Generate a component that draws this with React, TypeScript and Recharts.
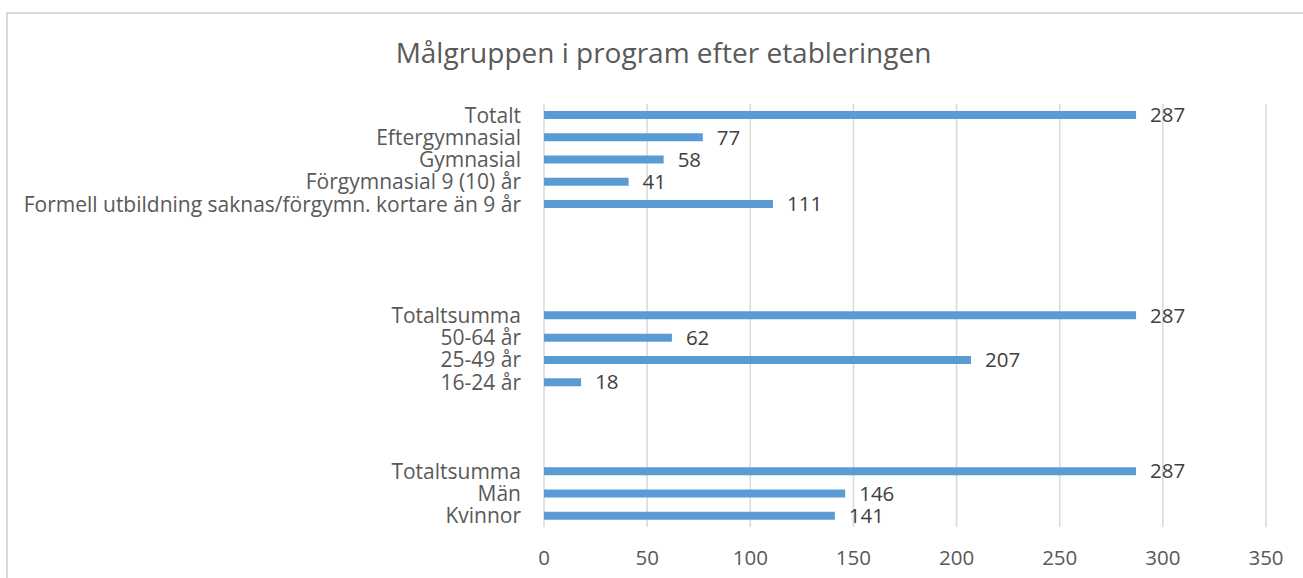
import React from 'react';
import { BarChart, Bar, XAxis, YAxis, CartesianGrid, LabelList } from 'recharts';

// Row labels from top to bottom, blank rows are the gaps between the groups
const categories = [
  'Totalt',
  'Eftergymnasial',
  'Gymnasial',
  'Förgymnasial 9 (10) år',
  'Formell utbildning saknas/förgymn. kortare än 9 år',
  '', '', '', '',
  'Totaltsumma',
  '50-64 år',
  '25-49 år',
  '16-24 år',
  '', '', '',
  'Totaltsumma',
  'Män',
  'Kvinnor',
];

const values: (number | null)[] = [
  287, 77, 58, 41, 111,
  null, null, null, null,
  287, 62, 207, 18,
  null, null, null,
  287, 146, 141,
];

const xTicks = [0, 50, 100, 150, 200, 250, 300, 350];

const title = 'Målgruppen i program efter etableringen';

const data = categories.map((name, i) => ({ id: i, name, value: values[i] }));

const FONT = '"Open Sans", sans-serif';

export default function App() {
  return (
    <div
      style={{
        position: 'absolute',
        left: 6,
        top: 12,
        width: 1295,
        height: 564,
        borderLeft: '2px solid #d9d9d9',
        borderTop: '2px solid #d9d9d9',
        background: '#fff',
        fontFamily: FONT,
      }}
    >
      <div
        style={{
          position: 'absolute',
          left: 8,
          top: 18,
          width: 1295,
          textAlign: 'center',
          fontSize: 28,
          color: '#595959',
          lineHeight: '40px',
        }}
      >
        {title}
      </div>
      <BarChart
        width={1295}
        height={564}
        data={data}
        layout="vertical"
        margin={{ top: 90, right: 37, left: 0, bottom: 11 }}
        barCategoryGap={0}
      >
        <CartesianGrid horizontal={false} stroke="#d9d9d9" strokeWidth={1.5} />
        <XAxis
          type="number"
          domain={[0, 350]}
          ticks={xTicks}
          interval={0}
          axisLine={false}
          tickLine={false}
          tickMargin={17}
          height={40}
          tick={{ fill: '#595959', fontSize: 20.5, fontFamily: FONT }}
        />
        <YAxis
          type="category"
          dataKey="id"
          width={536}
          interval={0}
          axisLine={false}
          tickLine={false}
          tickMargin={17}
          tickFormatter={(i: number) => categories[i]}
          tick={{ fill: '#595959', fontSize: 21, fontFamily: FONT }}
        />
        <Bar dataKey="value" fill="#5B9BD5" barSize={8} isAnimationActive={false}>
          <LabelList
            dataKey="value"
            position="right"
            offset={14}
            fill="#404040"
            fontSize={20.5}
            fontFamily={FONT}
          />
        </Bar>
      </BarChart>
    </div>
  );
}
